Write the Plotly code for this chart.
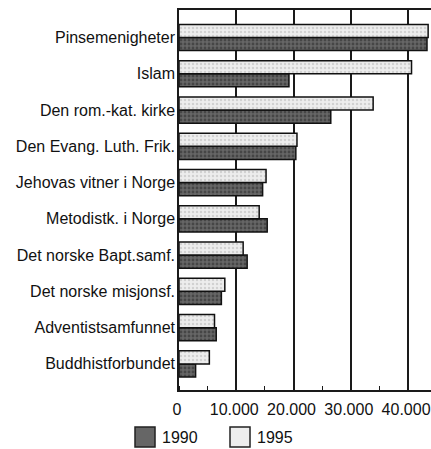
import plotly.graph_objects as go

# members of religious communities outside the state church
categories = [
    "Pinsemenigheter",
    "Islam",
    "Den rom.-kat. kirke",
    "Den Evang. Luth. Frik.",
    "Jehovas vitner i Norge",
    "Metodistk. i Norge",
    "Det norske Bapt.samf.",
    "Det norske misjonsf.",
    "Adventistsamfunnet",
    "Buddhistforbundet",
]
members_1990 = [43300, 19200, 26500, 20400, 14600, 15400, 11900, 7400, 6500, 2900]
members_1995 = [43500, 40600, 33900, 20600, 15200, 14000, 11200, 8000, 6200, 5300]
x_ticks = [0, 10000, 20000, 30000, 40000]
x_tick_labels = ["0", "10.000", "20.000", "30.000", "40.000"]

FONT = "Liberation Sans, Arial, sans-serif"
DARK = "#666666"
LIGHT = "#ededed"

fig = go.Figure()

fig.add_trace(go.Bar(
    y=categories, x=members_1990, name="1990", orientation="h",
    marker=dict(color=DARK, line=dict(color="#111", width=1.5),
                pattern=dict(shape=".", fgcolor="#262626", bgcolor=DARK,
                             size=4, solidity=0.4)),
    showlegend=False,
))
fig.add_trace(go.Bar(
    y=categories, x=members_1995, name="1995", orientation="h",
    marker=dict(color=LIGHT, line=dict(color="#111", width=1.5),
                pattern=dict(shape=".", fgcolor="#b4b4b4", bgcolor=LIGHT,
                             size=4, solidity=0.3)),
    showlegend=False,
))

# hand made legend with larger boxes than plotly draws for bars
legend_items = [("1990", DARK, -0.1746), ("1995", LIGHT, 0.2024)]
for label, colour, x0 in legend_items:
    fig.add_shape(type="rect", xref="paper", yref="paper",
                  x0=x0, x1=x0 + 0.0794, y0=-0.0974, y1=-0.15,
                  fillcolor=colour, line=dict(color="#222", width=1.5))
    fig.add_annotation(text=label, xref="paper", yref="paper",
                       x=x0 + 0.0994, y=-0.1237, xanchor="left",
                       yanchor="middle", showarrow=False,
                       font=dict(family=FONT, size=16, color="#111"))

fig.update_layout(
    barmode="group",
    bargap=0.28,
    bargroupgap=0,
    width=431,
    height=449,
    margin=dict(l=179, r=0, t=10, b=59, autoexpand=False),
    paper_bgcolor="white",
    plot_bgcolor="white",
    font=dict(family=FONT, size=16, color="#111"),
)

fig.update_xaxes(
    range=[0, 44000],
    tickvals=x_ticks,
    ticktext=x_tick_labels,
    automargin=False,
    showgrid=True, gridcolor="#1a1a1a", gridwidth=1.5,
    showline=True, linecolor="#1a1a1a", linewidth=1.5, mirror=True,
    ticks="", zeroline=False,
    ticklabelshift=-2, ticklabelstandoff=4,
    minor=dict(dtick=5000, tick0=0, ticks="inside", ticklen=4,
               tickcolor="#1a1a1a", showgrid=False),
)

fig.update_yaxes(
    type="category",
    categoryorder="array",
    categoryarray=categories[::-1],
    range=[-0.72, 9.76],
    automargin=False,
    showgrid=False,
    showline=True, linecolor="#1a1a1a", linewidth=1.5,
    ticks="", ticklabelstandoff=-1,
)

# the page body has a default 8px margin, drop it so the figure fills the window
fig.write_html("out.html", config={"displayModeBar": False},
               post_script="document.body.style.margin = '0';")
